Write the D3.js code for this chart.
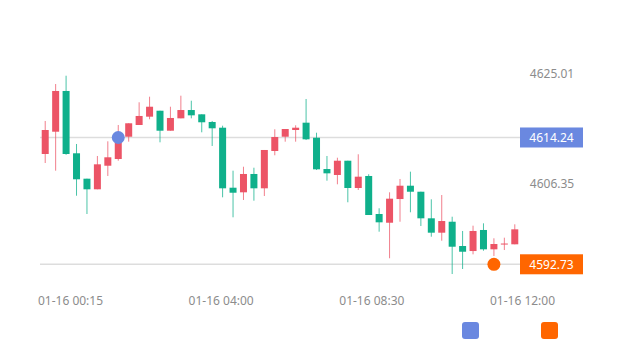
<!DOCTYPE html>
<html>
<head>
<meta charset="utf-8">
<script src="https://cdn.jsdelivr.net/npm/d3@7"></script>
<style>
  html, body { margin: 0; padding: 0; background: #fff; }
  svg { display: block; font-family: "Noto Sans", sans-serif; }
</style>
</head>
<body>
<svg id="chart" width="620" height="352"></svg>
<script>
// Kerzen-Daten (open, close, low, high)
const openVals = [4611.44, 4615.22, 4622.13, 4611.56, 4607.25, 4605.45, 4609.45, 4610.59, 4614.37, 4616.36,
  4617.77, 4618.78, 4615.39, 4617.49, 4618.90, 4618.17, 4616.87, 4615.90, 4605.72, 4604.94,
  4608.05, 4605.62, 4611.95, 4614.37, 4615.51, 4616.75, 4614.20, 4608.89, 4607.88, 4610.30,
  4605.67, 4607.71, 4601.26, 4599.78, 4603.80, 4606.06, 4605.04, 4600.53, 4598.09, 4599.95,
  4595.83, 4594.98, 4598.55, 4595.27, 4596.10, 4596.12];
const closeVals = [4615.51, 4622.13, 4611.44, 4607.15, 4605.45, 4609.69, 4610.88, 4613.81, 4616.65, 4617.89,
  4619.46, 4615.39, 4617.55, 4618.90, 4618.00, 4616.82, 4615.80, 4605.62, 4604.87, 4608.05,
  4605.62, 4612.12, 4614.32, 4615.68, 4615.90, 4613.93, 4608.84, 4608.16, 4610.30, 4605.67,
  4607.59, 4601.09, 4599.85, 4603.86, 4606.06, 4605.04, 4600.53, 4598.09, 4600.07, 4595.71,
  4594.86, 4598.38, 4595.27, 4596.17, 4596.25, 4598.66];
const lowVals = [4609.91, 4608.61, 4611.30, 4604.36, 4601.26, 4605.45, 4607.71, 4610.30, 4613.53, 4616.36,
  4617.33, 4613.42, 4615.39, 4617.49, 4617.49, 4615.12, 4612.80, 4604.09, 4600.70, 4603.64,
  4603.52, 4604.31, 4611.22, 4613.53, 4613.53, 4613.81, 4608.72, 4606.91, 4606.30, 4603.25,
  4605.33, 4601.09, 4598.26, 4593.75, 4599.95, 4601.55, 4599.22, 4597.41, 4596.73, 4591.08,
  4591.93, 4594.42, 4595.03, 4594.14, 4595.15, 4596.12];
const highVals = [4617.04, 4623.31, 4624.72, 4613.14, 4607.25, 4611.10, 4613.59, 4616.36, 4616.65, 4620.21,
  4621.16, 4618.78, 4619.46, 4621.33, 4620.48, 4618.17, 4617.04, 4616.24, 4608.61, 4609.28,
  4609.11, 4612.12, 4615.63, 4615.68, 4616.31, 4620.77, 4615.05, 4611.10, 4610.81, 4610.30,
  4611.39, 4608.00, 4602.23, 4604.94, 4607.20, 4608.44, 4605.04, 4603.75, 4604.48, 4600.80,
  4598.38, 4599.28, 4599.68, 4597.14, 4597.24, 4599.51];

// Achsenbeschriftungen
const xLabels = ['01-16 00:15', '01-16 04:00', '01-16 08:30', '01-16 12:00'];
const yTicks = [4625.01, 4606.35];

// Markierungen (Punkt + Linie)
const markIndex = [7, 43];
const markValues = [4614.24, 4592.73];
const markColors = ['#6a88e0', '#ff6600'];

const upColor = '#ec5466';
const downColor = '#0fb08b';

const svg = d3.select('#chart');
const indices = d3.range(openVals.length);

const x = d3.scaleBand().domain(indices).range([40, 520]);
const y = d3.scaleLinear().domain([4587.69, 4625.01]).range([294, 74]);
const xl = d3.scalePoint().domain(xLabels).range([70, 522]);

// Y-Achse rechts (nur Text)
const yAxis = d3.axisRight(y).tickValues(yTicks).tickSize(0).tickFormat(d3.format('.2f'));
const gy = svg.append('g').attr('transform', 'translate(552,0)').call(yAxis);
gy.select('.domain').remove();
gy.selectAll('text').attr('x', 0).attr('dx', 0).attr('text-anchor', 'middle')
  .attr('fill', '#8c8c8c').style('font-size', '12px').style('font-family', '"Noto Sans", sans-serif');

// X-Achse unten (nur Text)
const xAxis = d3.axisBottom(xl).tickSize(0);
const gx = svg.append('g').attr('transform', 'translate(0,296)').call(xAxis);
gx.select('.domain').remove();
gx.selectAll('text').attr('fill', '#8c8c8c').attr('y', 0).attr('dy', '0.75em')
  .style('font-size', '12px').style('font-family', '"Noto Sans", sans-serif');

// Markierungslinien
svg.selectAll('line.mark').data(markValues).enter().append('line')
  .attr('class', 'mark')
  .attr('x1', 40).attr('x2', 520)
  .attr('y1', d => y(d)).attr('y2', d => y(d))
  .attr('stroke', '#dddddd').attr('stroke-width', 1.5);

// Kerzen
const candles = svg.append('g').selectAll('g').data(indices).enter().append('g');
function colorOf(i) {
  return closeVals[i] >= openVals[i] ? upColor : downColor;
}
candles.append('line')
  .attr('x1', i => x(i) + x.bandwidth() / 2).attr('x2', i => x(i) + x.bandwidth() / 2)
  .attr('y1', i => y(highVals[i])).attr('y2', i => y(lowVals[i]))
  .attr('stroke', colorOf).attr('stroke-width', 1).attr('stroke-opacity', 0.75);
candles.append('rect')
  .attr('x', i => x(i) + x.bandwidth() / 2 - 3.5)
  .attr('width', 7)
  .attr('y', i => y(Math.max(openVals[i], closeVals[i])))
  .attr('height', i => Math.max(1, Math.abs(y(openVals[i]) - y(closeVals[i]))))
  .attr('fill', colorOf);

// Markierungspunkte
svg.selectAll('circle.mp').data(markIndex).enter().append('circle')
  .attr('class', 'mp')
  .attr('cx', (d, k) => x(d) + x.bandwidth() / 2)
  .attr('cy', (d, k) => y(markValues[k]))
  .attr('r', 6.5)
  .attr('fill', (d, k) => markColors[k]);

// Labels der Markierungslinien
const tags = svg.selectAll('g.tag').data(markValues).enter().append('g').attr('class', 'tag');
tags.append('rect')
  .attr('x', 520).attr('width', 63)
  .attr('y', d => y(d) - 10).attr('height', 20)
  .attr('fill', (d, k) => markColors[k]);
tags.append('text')
  .attr('x', 551.5).attr('y', d => y(d))
  .attr('dy', '0.36em').attr('text-anchor', 'middle')
  .attr('fill', '#fff').style('font-size', '12px')
  .text(d => d.toFixed(2));

// Legende
svg.selectAll('rect.legend').data(markColors).enter().append('rect')
  .attr('class', 'legend')
  .attr('x', (d, k) => 462 + k * 79).attr('y', 322)
  .attr('width', 17).attr('height', 17).attr('rx', 3)
  .attr('fill', d => d);
</script>
</body>
</html>
